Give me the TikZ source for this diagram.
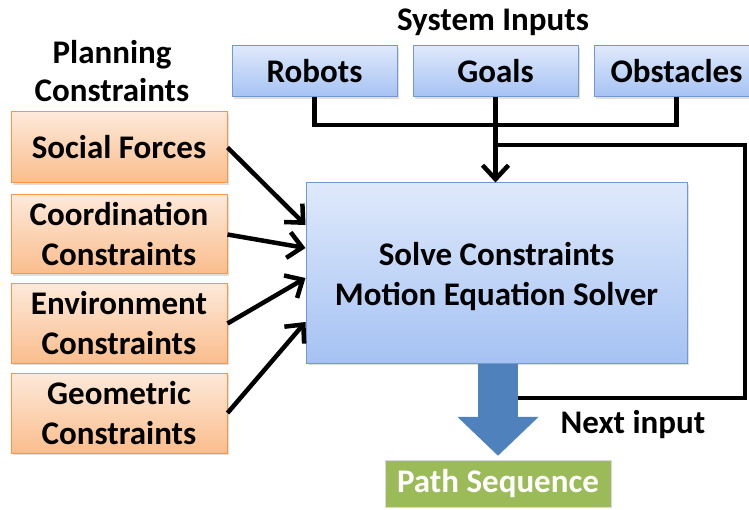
\documentclass[tikz,border=0pt]{standalone}
\usepackage{fontspec}
\setmainfont{Carlito}
\usepackage{tikz}
\usetikzlibrary{arrows.meta,shadows}

\definecolor{blueTop}{HTML}{DFE9FB}
\definecolor{blueBot}{HTML}{A5C2F3}
\definecolor{blueLine}{HTML}{7099D2}
\definecolor{orTop}{HTML}{FDE9DA}
\definecolor{orBot}{HTML}{FABD8C}
\definecolor{orLine}{HTML}{F79646}
\definecolor{outBlue}{HTML}{4F81BD}
\definecolor{pathGreen}{HTML}{9BBB59}

\begin{document}
\begin{tikzpicture}[x=1pt,y=-1pt,
	font=\fontsize{33}{40}\selectfont\bfseries,
	>={Straight Barb[length=14pt,width=26pt]},
	shade/.style={drop shadow={shadow xshift=1.5pt,shadow yshift=-2pt,opacity=0.25}},
	inbox/.style={shade,draw=blueLine,line width=1pt,top color=blueTop,bottom color=blueBot,
		minimum width=165pt,minimum height=51pt,inner sep=0pt},
	conbox/.style={shade,draw=orLine,line width=1pt,top color=orTop,bottom color=orBot,
		minimum width=216pt,inner sep=0pt,align=center},
	wire/.style={line width=4.5pt}
]
\useasboundingbox (0,0) rectangle (749,510);

% inputs along the top
\node at (493,22) {System Inputs};
\node[inbox] (rob) at (314.5,71.5) {Robots};
\node[inbox] (goal) at (495.5,71.5) {Goals};
\node[inbox] (obs) at (676.5,71.5) {Obstacles};

% constraints on the left
\node[align=center] at (112,71) {Planning\\[-2pt]Constraints};
\node[conbox,minimum height=71pt] (soc) at (119,147.5) {Social Forces};
\node[conbox,minimum height=79pt] (coord) at (119,234.5) {Coordination\\Constraints};
\node[conbox,minimum height=79pt] (env) at (119,323.5) {Environment\\Constraints};
\node[conbox,minimum height=80pt] (geo) at (119,413) {Geometric\\Constraints};

% solver and output
\node[inbox,minimum width=381pt,minimum height=180pt] (main) at (496.5,273) {};
\node[align=center] at (main.center) [yshift=-4pt] {Solve Constraints\\Motion Equation Solver};
\node[fill=pathGreen,draw=white!85!black,text=white,minimum width=226pt,minimum height=47pt,inner sep=0pt]
	(path) at (498,483.5) {\raisebox{-2pt}{Path Sequence}};
\node at (633,425) {Next input};

\coordinate (bus) at (496,125);
\coordinate (out) at (517,398);
\coordinate (corner) at (745,145);

\draw[wire] (rob.south) |- (bus) -| (obs.south);
\draw[wire] (out) -| (corner) -- (goal.south |- corner);
\draw[line width=40pt,outBlue,-{Triangle[width=79pt,length=39pt]}]
	(main.south -| path.north) -- ([yshift=4pt]path.north);

\path[wire,->]
(goal.south) edge (goal.south |- main.north)
(soc.east) edge ([yshift=48pt]main.west)
(coord.east) edge ([yshift=25pt]main.west)
(env.east) edge ([yshift=-5pt]main.west)
(geo.east) edge ([yshift=-49pt]main.west)
;
\end{tikzpicture}
\end{document}
